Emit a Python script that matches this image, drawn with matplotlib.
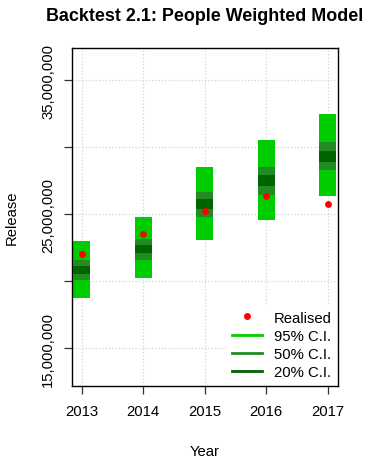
import matplotlib
matplotlib.use("Agg")
import matplotlib.pyplot as plt
from matplotlib.lines import Line2D

plt.rcParams['font.family'] = ['Liberation Sans', 'DejaVu Sans']

years = [2013, 2014, 2015, 2016, 2017]
ci95_low = [18.76e6, 20.22e6, 23.08e6, 24.60e6, 26.38e6]
ci95_high = [23.00e6, 24.79e6, 28.52e6, 30.51e6, 32.47e6]
ci50_low = [20.08e6, 21.62e6, 24.82e6, 26.48e6, 28.30e6]
ci50_high = [21.62e6, 23.18e6, 26.68e6, 28.52e6, 30.38e6]
ci20_low = [20.57e6, 22.11e6, 25.37e6, 27.13e6, 28.94e6]
ci20_high = [21.12e6, 22.73e6, 26.13e6, 27.90e6, 29.74e6]
realised = [22.06e6, 23.55e6, 25.22e6, 26.38e6, 25.76e6]

yticks = [15e6, 20e6, 25e6, 30e6, 35e6]
ytick_labels = ['15,000,000', '', '25,000,000', '', '35,000,000']

c95 = '#00CD00'
c50 = '#228B22'
c20 = '#006400'

fs = 10.7

fig = plt.figure(figsize=(3.66, 4.6), dpi=100)
ax = fig.add_axes([0.196, 0.159, 0.728, 0.734])

w = 0.28
for i, yr in enumerate(years):
    ax.bar(yr, ci95_high[i] - ci95_low[i], bottom=ci95_low[i], width=w, color=c95, zorder=2)
    ax.bar(yr, ci50_high[i] - ci50_low[i], bottom=ci50_low[i], width=w, color=c50, zorder=3)
    ax.bar(yr, ci20_high[i] - ci20_low[i], bottom=ci20_low[i], width=w, color=c20, zorder=4)
ax.scatter(years, realised, color='red', s=24, zorder=5, linewidths=0)

ax.set_xlim(2012.84, 2017.17)
ax.set_ylim(12.21e6, 37.39e6)
ax.set_xticks(years)
ax.set_xticklabels([str(y) for y in years], fontsize=fs)
ax.set_yticks(yticks)
ax.set_yticklabels(ytick_labels, fontsize=fs, rotation=90, va='center')
ax.grid(True, color='#D3D3D3', linestyle=':', linewidth=0.9, zorder=0)
ax.set_axisbelow(True)
ax.tick_params(direction='out', length=6, width=0.9, color='#333333')
ax.tick_params(axis='x', pad=7)
ax.tick_params(axis='y', pad=6)
for s in ax.spines.values():
    s.set_linewidth(1.0)
    s.set_color('black')

ax.set_xlabel('Year', fontsize=fs, labelpad=19)
ax.set_ylabel('Release', fontsize=fs, labelpad=16)
ax.set_title('Backtest 2.1: People Weighted Model', fontsize=12.9, fontweight='bold', pad=20)

handles = [
    Line2D([], [], marker='o', color='red', linestyle='none', markersize=5, markeredgewidth=0),
    Line2D([], [], color=c95, linewidth=2),
    Line2D([], [], color=c50, linewidth=2),
    Line2D([], [], color=c20, linewidth=2),
]
labels = ['Realised', '95% C.I.', '50% C.I.', '20% C.I.']
leg = ax.legend(handles, labels, loc='lower right', fontsize=fs, frameon=True,
                facecolor='white', edgecolor='none', framealpha=1,
                handlelength=2.0, labelspacing=0.28, borderaxespad=0.15,
                handletextpad=0.8, borderpad=0.3)
leg.set_zorder(10)

fig.savefig('out.png', dpi=100)
